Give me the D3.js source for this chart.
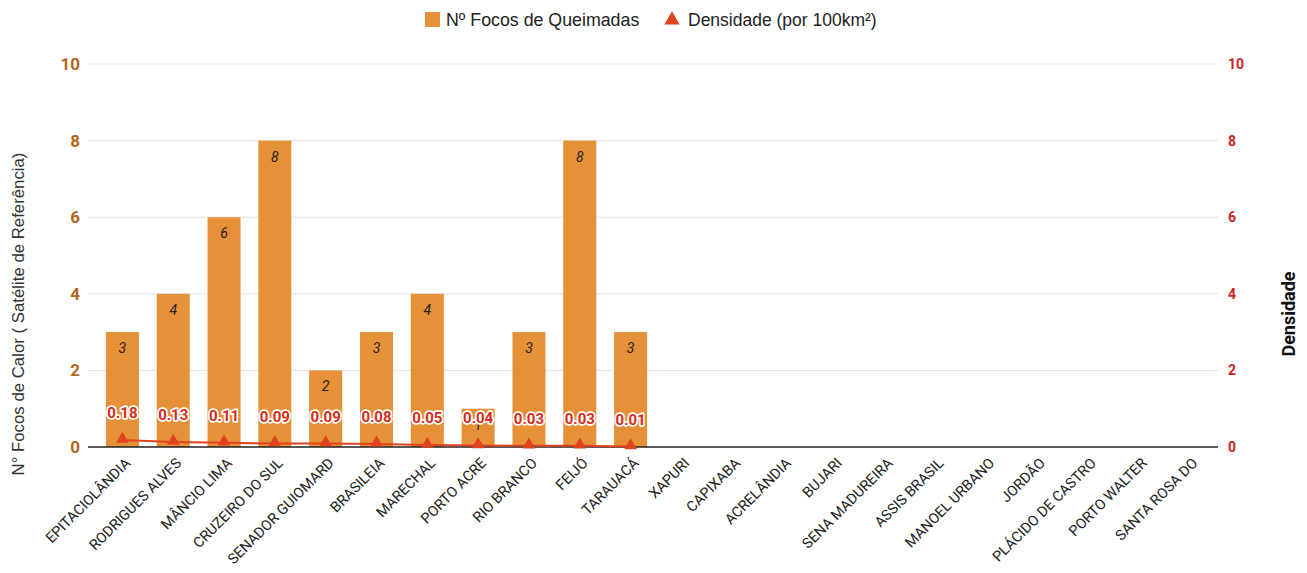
<!DOCTYPE html>
<html>
<head>
<meta charset="utf-8">
<script src="https://cdn.jsdelivr.net/npm/d3@7"></script>
<style>
  body { margin: 0; background: #fff; font-family: Roboto, "Liberation Sans", Arial, sans-serif; }
</style>
</head>
<body>
<div id="chart"></div>
<script>
// Data
var municipios = ["EPITACIOLÂNDIA", "RODRIGUES ALVES", "MÂNCIO LIMA", "CRUZEIRO DO SUL", "SENADOR GUIOMARD",
  "BRASILEIA", "MARECHAL", "PORTO ACRE", "RIO BRANCO", "FEIJÓ", "TARAUACÁ", "XAPURI", "CAPIXABA",
  "ACRELÂNDIA", "BUJARI", "SENA MADUREIRA", "ASSIS BRASIL", "MANOEL URBANO", "JORDÃO",
  "PLÁCIDO DE CASTRO", "PORTO WALTER", "SANTA ROSA DO"];
var focos = [3, 4, 6, 8, 2, 3, 4, 1, 3, 8, 3, null, null, null, null, null, null, null, null, null, null, null];
var densidade = [0.18, 0.13, 0.11, 0.09, 0.09, 0.08, 0.05, 0.04, 0.03, 0.03, 0.01, null, null, null, null, null, null, null, null, null, null, null];
var yTicks = [0, 2, 4, 6, 8, 10];

//Chart set up
var svgWidth = 1307;
var svgHeight = 573;
var barColor = "#e69138";
var lineColor = "#e0431d";

var svg = d3.select("#chart")
  .append("svg")
  .attr("width", svgWidth)
  .attr("height", svgHeight);

var xScale = d3.scaleBand()
  .domain(municipios)
  .range([97, 1215])
  .paddingInner(0.35)
  .paddingOuter(0.175);

var yLeft = d3.scaleLinear().domain([0, 10]).range([447, 64]);
var yRight = d3.scaleLinear().domain([0, 10]).range([447, 64]);

// gridlines
svg.append("g")
  .selectAll("line")
  .data(yTicks.slice(1))
  .enter()
  .append("line")
  .attr("x1", 88)
  .attr("x2", 1218)
  .attr("y1", d => yLeft(d))
  .attr("y2", d => yLeft(d))
  .attr("stroke", "#e3e3e3")
  .attr("stroke-width", 1);

// left axis
var leftAxis = d3.axisLeft(yLeft).tickValues(yTicks).tickSize(0).tickPadding(0);
var gl = svg.append("g").attr("transform", "translate(80,0)").call(leftAxis);
gl.select(".domain").remove();
gl.selectAll("text")
  .attr("fill", "#b4661b")
  .attr("font-family", "Roboto, sans-serif")
  .attr("font-weight", "bold")
  .attr("font-size", 17);

// right axis
var rightAxis = d3.axisRight(yRight).tickValues(yTicks).tickSize(0).tickPadding(0);
var gr = svg.append("g").attr("transform", "translate(1228,0)").call(rightAxis);
gr.select(".domain").remove();
gr.selectAll("text")
  .attr("fill", "#cc1f1f")
  .attr("font-family", "Roboto, sans-serif")
  .attr("font-weight", "bold")
  .attr("font-size", 14);

// bars
svg.append("g")
  .selectAll("rect")
  .data(municipios.map((m, i) => ({ m: m, v: focos[i] })).filter(d => d.v != null))
  .enter()
  .append("rect")
  .attr("x", d => xScale(d.m))
  .attr("y", d => yLeft(d.v))
  .attr("width", xScale.bandwidth())
  .attr("height", d => yLeft(0) - yLeft(d.v))
  .attr("fill", barColor);

// bar labels
svg.append("g")
  .selectAll("text")
  .data(municipios.map((m, i) => ({ m: m, v: focos[i] })).filter(d => d.v != null))
  .enter()
  .append("text")
  .attr("x", d => xScale(d.m) + xScale.bandwidth() / 2)
  .attr("y", d => yLeft(d.v) + 21)
  .attr("text-anchor", "middle")
  .attr("font-style", "italic")
  .attr("font-size", 14)
  .attr("fill", "#222")
  .text(d => d.v);

// x axis baseline
svg.append("line")
  .attr("x1", 88).attr("x2", 1218)
  .attr("y1", yLeft(0)).attr("y2", yLeft(0))
  .attr("stroke", "#222").attr("stroke-width", 1.4);

// x axis labels
var bottomAxis = d3.axisBottom(xScale).tickSize(0).tickPadding(0);
var gx = svg.append("g").attr("transform", `translate(0, ${yLeft(0)})`).call(bottomAxis);
gx.select(".domain").remove();
gx.selectAll("text")
  .attr("font-family", "Roboto, sans-serif")
  .attr("font-size", 14.5)
  .attr("fill", "#222")
  .attr("text-anchor", "end")
  .attr("dy", null)
  .attr("transform", "translate(9,17) rotate(-45)");

// density line
var densData = municipios.map((m, i) => ({ m: m, v: densidade[i] })).filter(d => d.v != null);
var line = d3.line()
  .x(d => xScale(d.m) + xScale.bandwidth() / 2)
  .y(d => yRight(d.v));

svg.append("path")
  .datum(densData)
  .attr("d", line)
  .attr("fill", "none")
  .attr("stroke", lineColor)
  .attr("stroke-width", 2);

svg.append("g")
  .selectAll("path")
  .data(densData)
  .enter()
  .append("path")
  .attr("d", d3.symbol().type(d3.symbolTriangle).size(70))
  .attr("transform", d => `translate(${xScale(d.m) + xScale.bandwidth() / 2}, ${yRight(d.v) - 1})`)
  .attr("fill", lineColor);

// density labels
svg.append("g")
  .selectAll("text")
  .data(densData)
  .enter()
  .append("text")
  .attr("x", d => xScale(d.m) + xScale.bandwidth() / 2)
  .attr("y", d => yRight(d.v) - 22)
  .attr("text-anchor", "middle")
  .attr("font-weight", "bold")
  .attr("font-size", 15)
  .attr("fill", "#d62d1b")
  .attr("stroke", "#fff")
  .attr("stroke-width", 3.5)
  .attr("stroke-linejoin", "round")
  .attr("paint-order", "stroke")
  .text(d => d.v.toFixed(2));

// axis titles
svg.append("text")
  .attr("transform", "translate(24, 314) rotate(-90)")
  .attr("text-anchor", "middle")
  .attr("font-family", "Liberation Sans, Arial, sans-serif")
  .attr("font-size", 16.8)
  .attr("fill", "#333")
  .text("N° Focos de Calor ( Satélite de Referência)");

svg.append("text")
  .attr("transform", "translate(1295, 314) rotate(-90)")
  .attr("text-anchor", "middle")
  .attr("font-weight", "bold")
  .attr("font-size", 18)
  .attr("fill", "#111")
  .text("Densidade");

// legend
var legend = svg.append("g");
legend.append("rect")
  .attr("x", 425).attr("y", 12).attr("width", 15).attr("height", 15)
  .attr("fill", barColor);
legend.append("text")
  .attr("x", 446).attr("y", 26)
  .attr("font-family", "Liberation Sans, Arial, sans-serif")
  .attr("font-size", 17.8).attr("fill", "#222")
  .text("Nº Focos de Queimadas");
legend.append("path")
  .attr("d", d3.symbol().type(d3.symbolTriangle).size(100))
  .attr("transform", "translate(672, 20)")
  .attr("fill", lineColor);
legend.append("text")
  .attr("x", 688).attr("y", 26)
  .attr("font-family", "Liberation Sans, Arial, sans-serif")
  .attr("font-size", 17.5).attr("fill", "#222")
  .text("Densidade (por 100km²)");
</script>
</body>
</html>
